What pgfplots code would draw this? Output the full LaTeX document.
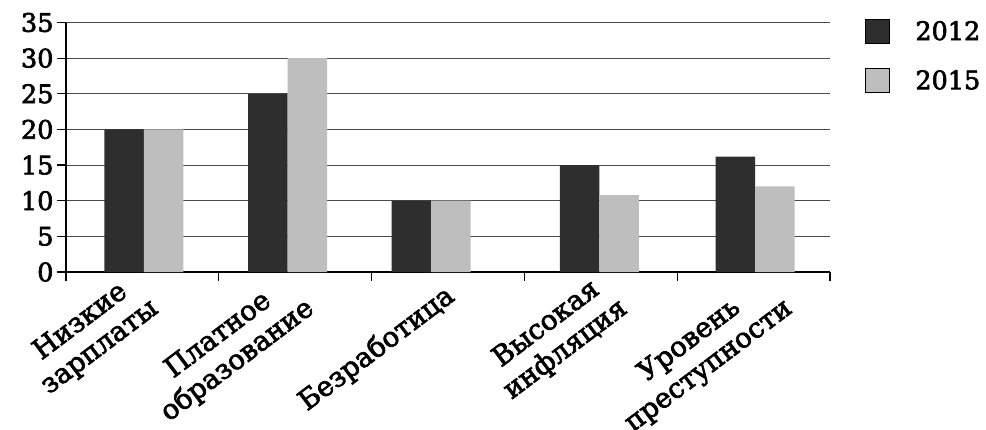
\documentclass[border=0pt]{standalone}
\usepackage{fontspec}
\setmainfont{DejaVu Serif}[FakeBold=2.5]
\usepackage{pgfplots}
\usepackage{pgfplotstable}
\pgfplotsset{compat=1.18}

\definecolor{bardark}{HTML}{2E2E2E}
\definecolor{barlight}{HTML}{BEBEBE}
\definecolor{gridgray}{HTML}{4A4A4A}

\pgfplotsset{sqlegend/.style={legend image code/.code={
    \draw[#1, draw=black, line width=1.2pt] (0pt,-12pt) rectangle (24pt,12pt);}}}

% group centres as they sit in the drawing (categories span 0..5)
\pgfplotstableread{
x     y2012  y2015
0.51  20     20
1.45  25     30
2.39  10     10
3.49  15     10.8
4.51  16.2   12
}\survey

\begin{document}
\begin{tikzpicture}
\useasboundingbox (-66pt,-157pt) rectangle (920pt,272pt);
\begin{axis}[
    at={(0pt,0pt)}, anchor=south west,
    scale only axis,
    width=764pt, height=249.5pt,
    xmin=0, xmax=5, ymin=0, ymax=35,
    ybar=0pt, bar width=39.5pt,
    axis x line=bottom, axis y line=left,
    axis line style={-, line width=1.3pt, black},
    xtick={0,...,5},
    xticklabels={,,,,,},
    extra x ticks={0.5,1.52,2.5,3.57,4.65},
    extra x tick labels={{Низкие\\зарплаты},{Платное\\образование},Безработица,{Высокая\\инфляция},{Уровень\\преступности}},
    extra x tick style={tick style={draw=none}, grid=none},
    ytick={0,5,...,35},
    tick align=outside,
    major tick length=9pt,
    tick style={black, line width=1.2pt},
    ymajorgrids,
    grid style={gridgray, line width=1.1pt},
    font=\fontsize{25.5}{31}\selectfont,
    /pgf/number format/assume math mode=true,
    xticklabel style={font=\fontsize{27.5}{32}\selectfont,
        xshift=6pt, yshift=-10pt, rotate=37, anchor=east, align=center},
    legend style={at={(axis description cs:1,1)}, anchor=north west,
        xshift=32pt, yshift=6pt, draw=none, fill=none,
        row sep=24pt, legend cell align=left,
        /tikz/every odd column/.append style={column sep=23pt}},
]
\addplot[fill=bardark, draw=none, sqlegend] table[x=x, y=y2012] {\survey};
\addlegendentry{2012}
\addplot[fill=barlight, draw=none, sqlegend] table[x=x, y=y2015] {\survey};
\addlegendentry{2015}
\end{axis}
\end{tikzpicture}
\end{document}
